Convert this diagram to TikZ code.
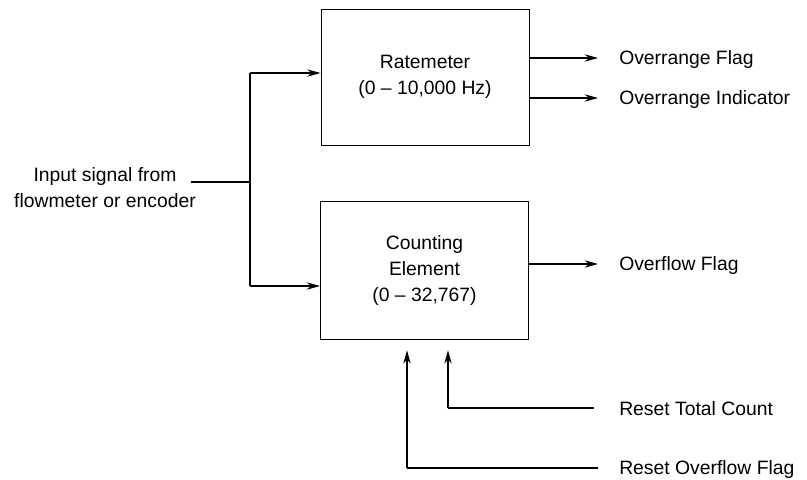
\documentclass[tikz,border=0pt]{standalone}
\usepackage{fontspec}
\setmainfont{Liberation Sans}
\usepackage{tikz}
\usetikzlibrary{calc, arrows.meta}

\begin{document}
\begin{tikzpicture}[x=0.75pt, y=-0.75pt,
    box/.style={draw, line width=0.7, minimum width=156pt, align=center},
    lbl/.style={anchor=west, inner sep=0},
    arr/.style={line width=0.8, -{Stealth[length=10pt, width=5.5pt]}},
    feed/.style={line width=1.6}]
  \useasboundingbox (0, 0) rectangle (807, 479);
  \fontsize{14.5}{19.5}\selectfont

  % the two blocks
  \node[box, minimum height=102pt] (rate) at (425, 77)
    {Ratemeter\\(0 -- 10,000 Hz)};
  \node[box, minimum height=104pt] (count) at (424.5, 270.5)
    {Counting\\Element\\(0 -- 32,767)};

  % input side
  \node[align=center, inner sep=0] (input) at (105, 188)
    {Input signal from\\flowmeter or encoder};
  \coordinate (in) at (191, 182);
  \coordinate (split) at (250, 182);
  \coordinate (top) at (250, 73);
  \coordinate (bot) at (250, 286);
  \draw[feed] (in) -- (split);
  \draw[feed] (top) -- (bot);
  \draw[arr] (top) -- (rate.west |- top);
  \draw[arr] (bot) -- (count.west |- bot);

  % outputs
  \node[lbl] (oflag) at (619, 59) {Overrange Flag};
  \node[lbl] (oind) at (619, 99) {Overrange Indicator};
  \node[lbl] (ovf) at (619, 265) {Overflow Flag};
  \foreach \n/\y in {oflag/58, oind/98, ovf/264} {
    \coordinate (row) at (0, \y);
    \draw[arr, shorten >=15.75pt] (rate.east |- row) -- (\n.west |- row);
  }

  % reset lines
  \node[lbl] (rtc) at (619, 409) {Reset Total Count};
  \node[lbl] (rof) at (619, 469) {Reset Overflow Flag};
  \coordinate (tc) at (448, 408);
  \coordinate (of) at (407, 468);
  \draw[feed] ([xshift=-19pt]rtc.west |- tc) -- (tc);
  \draw[arr, shorten >=7.5pt] (tc) -- (tc |- count.south);
  \draw[feed] ([xshift=-15.75pt]rof.west |- of) -- (of);
  \draw[arr, shorten >=7.5pt] (of) -- (of |- count.south);

\end{tikzpicture}
\end{document}
